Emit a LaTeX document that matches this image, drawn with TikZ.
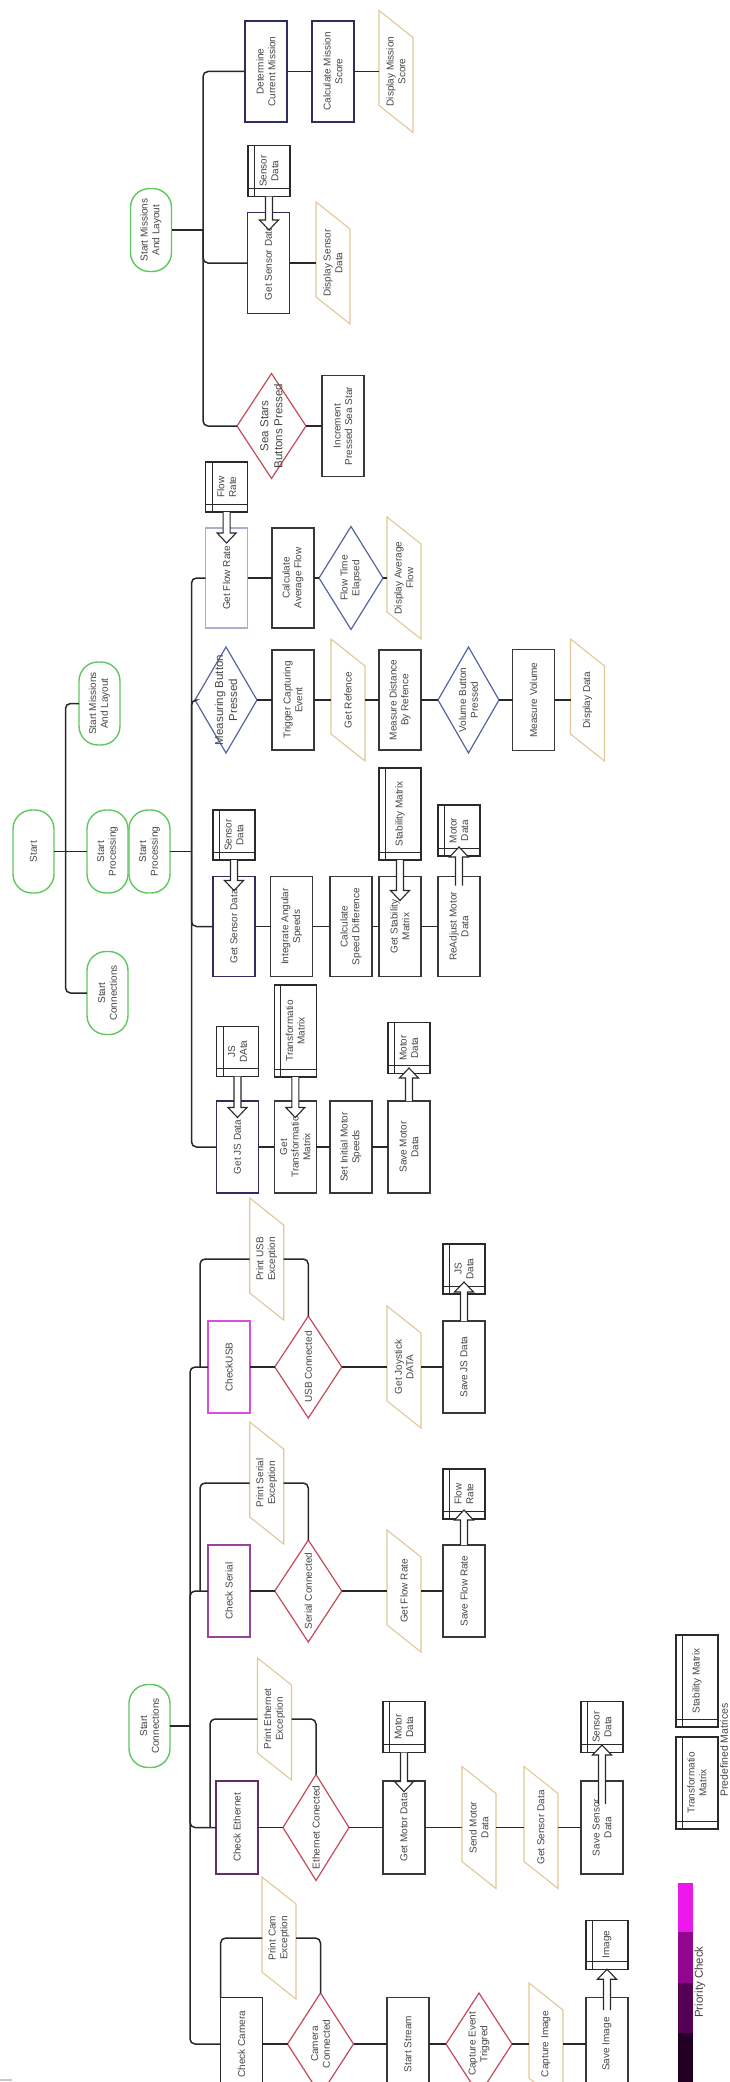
\documentclass[tikz,border=0pt]{standalone}
\usepackage{fontspec}
\setmainfont{Liberation Sans}
\usetikzlibrary{shapes.geometric,calc}
\definecolor{txtc}{RGB}{70,70,70}
\definecolor{linec}{RGB}{40,40,40}
\definecolor{boxc}{RGB}{55,55,60}
\definecolor{navyc}{RGB}{45,45,95}
\definecolor{lightc}{RGB}{170,176,200}
\definecolor{termc}{RGB}{95,200,95}
\definecolor{redc}{RGB}{195,75,90}
\definecolor{bluec}{RGB}{85,100,165}
\definecolor{ioc}{RGB}{225,200,150}
\definecolor{magc}{RGB}{215,80,215}
\definecolor{purc}{RGB}{150,70,150}
\definecolor{dpurc}{RGB}{100,45,100}
\definecolor{blkc}{RGB}{45,40,45}
\definecolor{pca}{RGB}{235,25,235}
\definecolor{pcb}{RGB}{145,5,145}
\definecolor{pcc}{RGB}{85,0,85}
\definecolor{pcd}{RGB}{35,0,35}
\definecolor{markc}{RGB}{200,200,200}
\tikzset{
  txtst/.style={rotate=90, inner sep=0pt, outer sep=0pt, align=center, text=txtc, font=\fontsize{10}{11.7}\selectfont},
  sz/.style 2 args={minimum width=#2pt, minimum height=#1pt},
  boxn/.style={txtst, rectangle, draw=#1, line width=1.1pt, fill=white},
  boxn/.default=boxc,
  termn/.style={txtst, rectangle, draw=termc, line width=1.4pt, rounded corners=19pt, fill=white, sz={41}{83}},
  diamn/.style={rotate=90, diamond, draw=#1, line width=1.2pt, inner sep=0pt, outer sep=0pt, fill=white},
  diamn/.default=redc,
  bigtxt/.style={txtst, font=\fontsize{11.5}{14}\selectfont},
  iotx/.style={txtst, sz={34}{95}},
  iobd/.style={draw=ioc, line width=1.1pt, fill=white},
  conn/.style={draw=linec, line width=1.5pt},
  rc/.style={rounded corners=5pt},
  harr/.style={draw=linec, line width=1.1pt, fill=white, line join=miter},
  sline/.style={draw=blkc, line width=0.9pt},
}
% parallelogram (input/output)
\newcommand{\ioshape}[4]{%
  \draw[iobd] ($(#2,#3)+(-17,-61)$) -- ($(#2,#3)+(17,-34)$) -- ($(#2,#3)+(17,61)$) -- ($(#2,#3)+(-17,34)$) -- cycle;
  \node[iotx] (#1) at (#2,#3) {#4};
}
% data store (internal storage)
\newcommand{\dstore}[5]{%
  \node[boxn=blkc, sz={42}{#4}] (#1) at (#2,#3) {#5};
  \draw[sline] ($(#1)+(-14.5,-#4/2)$) -- ($(#1)+(-14.5,#4/2)$);
  \draw[sline] ($(#1)+(-21,#4/2-8)$) -- ($(#1)+(21,#4/2-8)$);
}
% hollow block arrow pointing down (image) from store #1 into box #2, tip depth #3
\newcommand{\harrdown}[3]{%
  \draw[harr] let \p1=(#1.west), \p2=(#2.east) in
    (\x1-3.5pt,\y1) -- (\x1-3.5pt,\y2-#3pt+10pt) -- (\x1-9.5pt,\y2-#3pt+10pt) -- (\x1,\y2-#3pt)
    -- (\x1+9.5pt,\y2-#3pt+10pt) -- (\x1+3.5pt,\y2-#3pt+10pt) -- (\x1+3.5pt,\y1);
}
% hollow block arrow pointing up (image) from box #1 (start depth #3) into store #2 (tip depth #4)
\newcommand{\harrup}[4]{%
  \draw[harr] let \p1=(#1.east), \p2=(#2.west) in
    (\x1-3.5pt,\y1-#3pt) -- (\x1-3.5pt,\y2+#4pt-10pt) -- (\x1-9.5pt,\y2+#4pt-10pt) -- (\x1,\y2+#4pt)
    -- (\x1+9.5pt,\y2+#4pt-10pt) -- (\x1+3.5pt,\y2+#4pt-10pt) -- (\x1+3.5pt,\y1-#3pt);
}
\begin{document}
\begin{tikzpicture}[x=1pt,y=-1pt]
\useasboundingbox[fill=white] (0,0) rectangle (729,2082);

% ---------------- Missions ----------------
\node[termn] (SMALa) at (151,230) {Start Missions\\And Layout};
\node[boxn=navyc, sz={42}{101}] (DCM) at (266,71.5) {Determine\\Current Mission};
\node[boxn=navyc, sz={42}{101}] (CMS) at (333,71.5) {Calculate Mission\\Score};
\ioshape{DMS}{396}{71.5}{Display Mission\\Score}
\dstore{SDm}{269}{171}{51}{Sensor\\Data}
\node[boxn=navyc, sz={42}{101}] (GSDm) at (268.5,263) {Get Sensor Data};
\ioshape{DSD}{333}{263}{Display Sensor\\Data}
\node[diamn=redc, sz={69}{105}] (SSB) at (271.5,426) {};
\node[bigtxt] (SSBt) at (SSB) {Sea Stars\\Buttons Pressed};
\node[boxn, sz={42}{101}] (IPSS) at (343,426) {Increment\\Pressed Sea Star};

% ---------------- Root ----------------
\node[termn] (Start) at (33.5,851.5) {Start};
\node[termn] (SMALb) at (99.5,703.5) {Start Missions\\And Layout};
\node[termn] (SPa) at (107.5,851.5) {Start\\Processing};
\node[termn] (SPb) at (149.5,851.5) {Start\\Processing};
\node[termn] (SCa) at (107.5,993) {Start\\Connections};

% ---------------- Processing ----------------
\dstore{FRp}{226.6}{487}{50}{Flow\\Rate}
\node[boxn=lightc, sz={42}{100}] (GFR) at (226.6,578) {Get Flow Rate};
\node[boxn, sz={42}{100}] (CAF) at (293,578) {Calculate\\Average Flow};
\node[diamn=bluec, sz={64}{103}] (FTE) at (351,578) {};
\node[txtst] (FTEt) at (FTE) {Flow Time\\Elapsed};
\ioshape{DAF}{404}{578}{Display Average\\Flow}

\node[diamn=bluec, sz={62}{106}] (MBP) at (226,700) {};
\node[bigtxt] (MBPt) at (MBP) {Measuring Button\\Pressed};
\node[boxn, sz={42}{100}] (TCE) at (293,700) {Trigger Capturing\\Event};
\ioshape{GR}{348}{700}{Get Refence}
\node[boxn, sz={42}{100}] (MDR) at (400,700) {Measure Distance\\By Refence};
\node[diamn=bluec, sz={61}{106}] (VBP) at (468.5,700) {};
\node[txtst] (VBPt) at (VBP) {Volume Button\\Pressed};
\node[boxn, sz={42}{101}] (MV) at (533.6,700) {Measure Volume};
\ioshape{DD}{587.5}{700}{Display Data}

\dstore{SDp}{234}{835}{50}{Sensor\\Data}
\node[boxn=navyc, sz={42}{100}] (GSDp) at (234,926.5) {Get Sensor Data};
\node[boxn, sz={42}{100}] (IAS) at (291.7,926.5) {Integrate Angular\\Speeds};
\node[boxn, sz={42}{100}] (CSD) at (351,926.5) {Calculate\\Speed Difference};
\dstore{SMp}{400}{814}{92}{Stability Matrix}
\node[boxn, sz={42}{100}] (GSM) at (400,926.5) {Get Stability\\Matrix};
\dstore{MDp}{459}{830.5}{51}{Motor\\Data}
\node[boxn, sz={42}{100}] (RMD) at (459,926.5) {ReAdjust Motor\\Data};

\dstore{JSp}{237.5}{1051.7}{50}{JS\\DAta}
\node[boxn=navyc, sz={42}{92}] (GJS) at (237.5,1147) {Get JS Data};
\dstore{TMp}{295.3}{1031}{92}{Transformatio\\Matrix}
\node[boxn, sz={42}{92}] (GTM) at (295.3,1147) {Get\\Transformatio\\Matrix};
\node[boxn, sz={42}{92}] (SIMS) at (351,1147) {Set Initial Motor\\Speeds};
\dstore{MDp2}{409}{1048}{51}{Motor\\Data}
\node[boxn, sz={42}{92}] (SMD) at (409,1147) {Save Motor\\Data};

% ---------------- Connections ----------------
\node[termn] (SCb) at (149.5,1726) {Start\\Connections};

\node[boxn=magc, sz={42}{92}] (CU) at (229,1367) {CheckUSB};
\node[diamn=redc, sz={67}{102}] (UC) at (308.3,1367) {};
\node[txtst] (UCt) at (UC) {USB Connected};
\ioshape{PUE}{266.7}{1259}{Print USB\\Exception}
\ioshape{GJD}{404}{1367}{Get Joystick\\DATA}
\dstore{JSc}{464}{1269}{50}{JS\\Data}
\node[boxn, sz={42}{92}] (SJD) at (464,1367) {Save JS Data};

\node[boxn=purc, sz={42}{92}] (CS) at (229,1591) {Check Serial};
\node[diamn=redc, sz={67}{102}] (SCd) at (308.3,1591) {};
\node[txtst] (SCdt) at (SCd) {Serial Connected};
\ioshape{PSE}{266.7}{1483}{Print Serial\\Exception}
\ioshape{GFRc}{404}{1591}{Get Flow Rate}
\dstore{FRc}{464}{1494}{50}{Flow\\Rate}
\node[boxn, sz={42}{92}] (SFR) at (464,1591) {Save Flow Rate};

\node[boxn=dpurc, sz={42}{93}] (CE) at (237,1827.5) {Check Ethernet};
\node[diamn=redc, sz={66}{106}] (EC) at (316,1827.5) {};
\node[txtst] (ECt) at (EC) {Ethernet Conected};
\ioshape{PEE}{274.5}{1719}{Print Ethernet\\Exception}
\dstore{MDc}{404}{1727}{51}{Motor\\Data}
\node[boxn, sz={42}{93}] (GMD) at (404,1827.5) {Get Motor Data};
\ioshape{SMDc}{479}{1827.5}{Send Motor\\Data}
\ioshape{GSDc}{541}{1827.5}{Get Sensor Data}
\dstore{SDc}{602}{1727}{51}{Sensor\\Data}
\node[boxn, sz={42}{93}] (SSD) at (602,1827.5) {Save Sensor\\Data};

\node[boxn=blkc, sz={42}{93}] (CC) at (241.6,2044) {Check Camera};
\node[diamn=redc, sz={66}{102}] (CamC) at (320.5,2044) {};
\node[txtst] (CamCt) at (CamC) {Camera\\Connected};
\ioshape{PCE}{279}{1938}{Print Cam\\Exception}
\node[boxn, sz={42}{93}] (SS) at (408,2044) {Start Stream};
\node[diamn=redc, sz={66}{102}] (CET) at (479,2044) {};
\node[txtst] (CETt) at (CET) {Capture Event\\Triggred};
\ioshape{CI}{546}{2044}{Capture Image}
\dstore{IMG}{607}{1944.7}{49}{Image}
\node[boxn, sz={42}{93}] (SI) at (607,2044) {Save Image};

% ---------------- Legend ----------------
\fill[pca] (678,1883) rectangle (693,1932);
\fill[pcb] (678,1932) rectangle (693,1983);
\fill[pcc] (678,1983) rectangle (693,2033);
\fill[pcd] (678,2033) rectangle (693,2082);
\node[txtst, font=\fontsize{11.5}{13}\selectfont] (PC) at (700,1982) {Priority Check};
\dstore{SMl}{697}{1681}{92}{Stability Matrix}
\dstore{TMl}{697}{1783}{92}{Transformatio\\Matrix}
\node[txtst, font=\fontsize{10.5}{12}\selectfont] (PM) at (724,1750) {Predefined Matrices};
\draw[markc, line width=1.5pt] (0,2080) -- (12,2080);

% ---------------- Connectors ----------------
% missions
\coordinate (tm) at (203,230);
\draw[conn] (SMALa) -- (tm);
\draw[conn,rc] (DCM) -| (tm) |- (SSB);
\draw[conn,rc] (tm) |- (GSDm);
\draw[conn] (DCM) -- (CMS);
\draw[conn] (CMS) -- (DMS);
\draw[conn] (GSDm) -- (DSD);
\draw[conn] (SSB) -- (IPSS);
% root
\coordinate (tr) at (65.5,851.5);
\draw[conn] (Start) -- (tr);
\draw[conn,rc] (SMALb) -| (tr) |- (SCa);
\draw[conn] (tr) -- (SPa);
% processing
\coordinate (tp) at (191.5,851.5);
\draw[conn] (SPb) -- (tp);
\draw[conn,rc] (GFR) -| (tp) |- (GJS);
\draw[conn,rc] (tp) |- (MBP);
\draw[conn,rc] (tp) |- (GSDp);
\draw[conn] (GFR) -- (CAF);
\draw[conn] (CAF) -- (FTE);
\draw[conn] (FTE) -- (DAF);
\draw[conn] (MBP) -- (TCE);
\draw[conn] (TCE) -- (GR);
\draw[conn] (GR) -- (MDR);
\draw[conn] (MDR) -- (VBP);
\draw[conn] (VBP) -- (MV);
\draw[conn] (MV) -- (DD);
\draw[conn] (GSDp) -- (IAS);
\draw[conn] (IAS) -- (CSD);
\draw[conn] (CSD) -- (GSM);
\draw[conn] (GSM) -- (RMD);
\draw[conn] (GJS) -- (GTM);
\draw[conn] (GTM) -- (SIMS);
\draw[conn] (SIMS) -- (SMD);
% connections
\coordinate (tc) at (190,1726);
\draw[conn] (SCb) -- (tc);
\draw[conn,rc] (CU) -| (tc) |- (CC);
\draw[conn,rc] (tc) |- (CS);
\draw[conn,rc] (tc) |- (CE);
\draw[conn] (CU) -- (UC);
\draw[conn] (UC) -- (GJD);
\draw[conn] (GJD) -- (SJD);
\draw[conn] (CS) -- (SCd);
\draw[conn] (SCd) -- (GFRc);
\draw[conn] (GFRc) -- (SFR);
\draw[conn] (CE) -- (EC);
\draw[conn] (EC) -- (GMD);
\draw[conn] (GMD) -- (SMDc);
\draw[conn] (SMDc) -- (GSDc);
\draw[conn] (GSDc) -- (SSD);
\draw[conn] (CC) -- (CamC);
\draw[conn] (CamC) -- (SS);
\draw[conn] (SS) -- (CET);
\draw[conn] (CET) -- (CI);
\draw[conn] (CI) -- (SI);
% exception loops
\coordinate (lu) at (200,1367);
\draw[conn,rc] (UC.east) |- (PUE);
\draw[conn,rc] (PUE) -| (lu);
\coordinate (ls) at (200,1591);
\draw[conn,rc] (SCd.east) |- (PSE);
\draw[conn,rc] (PSE) -| (ls);
\coordinate (le) at (210,1827.5);
\draw[conn,rc] (EC.east) |- (PEE);
\draw[conn,rc] (PEE) -| (le);
\draw[conn,rc] (CamC.east) |- (PCE);
\draw[conn,rc] (PCE) -| (CC.north east);

% hollow data arrows
\harrdown{SDm}{GSDm}{17.5}
\harrdown{FRp}{GFR}{15}
\harrdown{SDp}{GSDp}{14}
\harrdown{SMp}{GSM}{24}
\harrup{RMD}{MDp}{9}{9}
\harrdown{JSp}{GJS}{16.5}
\harrdown{TMp}{GTM}{16.5}
\harrup{SMD}{MDp2}{0}{5.5}
\harrup{SJD}{JSc}{0}{12}
\harrup{SFR}{FRc}{0}{9}
\harrdown{MDc}{GMD}{10.6}
\harrup{SSD}{SDc}{23}{7.5}
\harrup{SI}{IMG}{12.5}{0}
\end{tikzpicture}
\end{document}
